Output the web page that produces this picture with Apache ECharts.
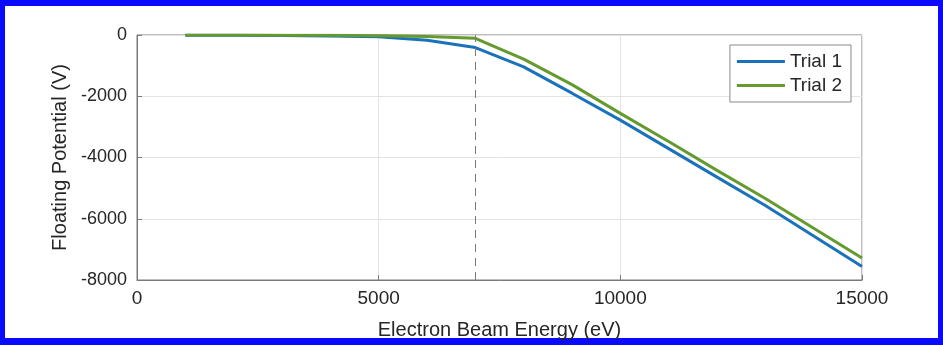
<!DOCTYPE html>
<html>
<head>
<meta charset="utf-8">
<script src="https://cdn.jsdelivr.net/npm/echarts@6/dist/echarts.min.js"></script>
<style>
  html, body { margin: 0; padding: 0; background: #fff; }
  #frame {
    width: 943px; height: 345px; box-sizing: border-box;
    border: solid #0a0aff; border-width: 6px 5px 7px 5px; position: relative;
  }
  #chart { position: absolute; left: -5px; top: -6px; width: 943px; height: 345px; }
</style>
</head>
<body>
<div id="frame"><div id="chart"></div></div>
<script>
// beam energy (eV)
const energy = [1000, 2000, 3000, 4000, 5000, 6000, 7000, 8000, 9000, 10000, 11000, 12000, 13000, 14000, 15000]
// floating potential (V)
const trial1 = [-10, -10, -20, -30, -60, -170, -410, -1040, -1900, -2780, -3710, -4640, -5570, -6560, -7560]
const trial2 = [0, 0, -5, -10, -25, -50, -110, -790, -1620, -2560, -3480, -4420, -5340, -6310, -7280]
const thresholdEnergy = 7000

const chart = echarts.init(document.getElementById('chart'))

const textColor = '#262626'
const axisColor = '#7a7a7a'
const fontFamily = 'Liberation Sans, Arial, sans-serif'

const option = {
  animation: false,
  grid: {
    left: 137,
    right: 81,
    top: 35,
    bottom: 65,
    show: true,
    borderColor: axisColor,
    borderWidth: 1
  },
  legend: {
    data: ['Trial 1', 'Trial 2'],
    orient: 'vertical',
    right: 92,
    top: 45,
    itemWidth: 48,
    itemHeight: 3,
    itemGap: 5,
    padding: [7, 9, 7, 7],
    borderColor: '#8a8a8a',
    borderWidth: 1,
    backgroundColor: '#fff',
    icon: 'rect',
    textStyle: { fontSize: 19, color: textColor, fontFamily: fontFamily }
  },
  xAxis: {
    type: 'value',
    min: 0,
    max: 15000,
    interval: 5000,
    name: 'Electron Beam Energy (eV)',
    nameLocation: 'middle',
    nameGap: 40,
    nameTextStyle: { fontSize: 20, color: textColor, fontFamily: fontFamily },
    axisLine: { show: true, onZero: false, lineStyle: { color: axisColor } },
    axisTick: { show: true, inside: true, length: 5, lineStyle: { color: axisColor } },
    axisLabel: { fontSize: 19, color: textColor, fontFamily: fontFamily, margin: 9, formatter: v => String(v) },
    splitLine: { show: true, lineStyle: { color: '#e3e3e3' } }
  },
  yAxis: {
    type: 'value',
    min: -8000,
    max: 0,
    interval: 2000,
    name: 'Floating Potential (V)',
    nameLocation: 'middle',
    nameGap: 64,
    nameTextStyle: { fontSize: 20, color: textColor, fontFamily: fontFamily },
    axisLine: { show: true, onZero: false, lineStyle: { color: axisColor } },
    axisTick: { show: true, inside: true, length: 5, lineStyle: { color: axisColor } },
    axisLabel: { fontSize: 18, color: textColor, fontFamily: fontFamily, margin: 10, formatter: v => String(v) },
    splitLine: { show: true, lineStyle: { color: '#e3e3e3' } }
  },
  series: [
    {
      name: 'Trial 1',
      type: 'line',
      data: energy.map((e, i) => [e, trial1[i]]),
      showSymbol: false,
      color: '#1a72bb',
      lineStyle: { width: 3, color: '#1a72bb' },
      markLine: {
        silent: true,
        symbol: 'none',
        label: { show: false },
        lineStyle: { type: [8, 6], color: axisColor, width: 1 },
        data: [{ xAxis: thresholdEnergy }]
      },
      z: 3
    },
    {
      name: 'Trial 2',
      type: 'line',
      data: energy.map((e, i) => [e, trial2[i]]),
      showSymbol: false,
      color: '#659a2e',
      lineStyle: { width: 3, color: '#659a2e' },
      z: 4
    }
  ]
}

chart.setOption(option)
</script>
</body>
</html>
